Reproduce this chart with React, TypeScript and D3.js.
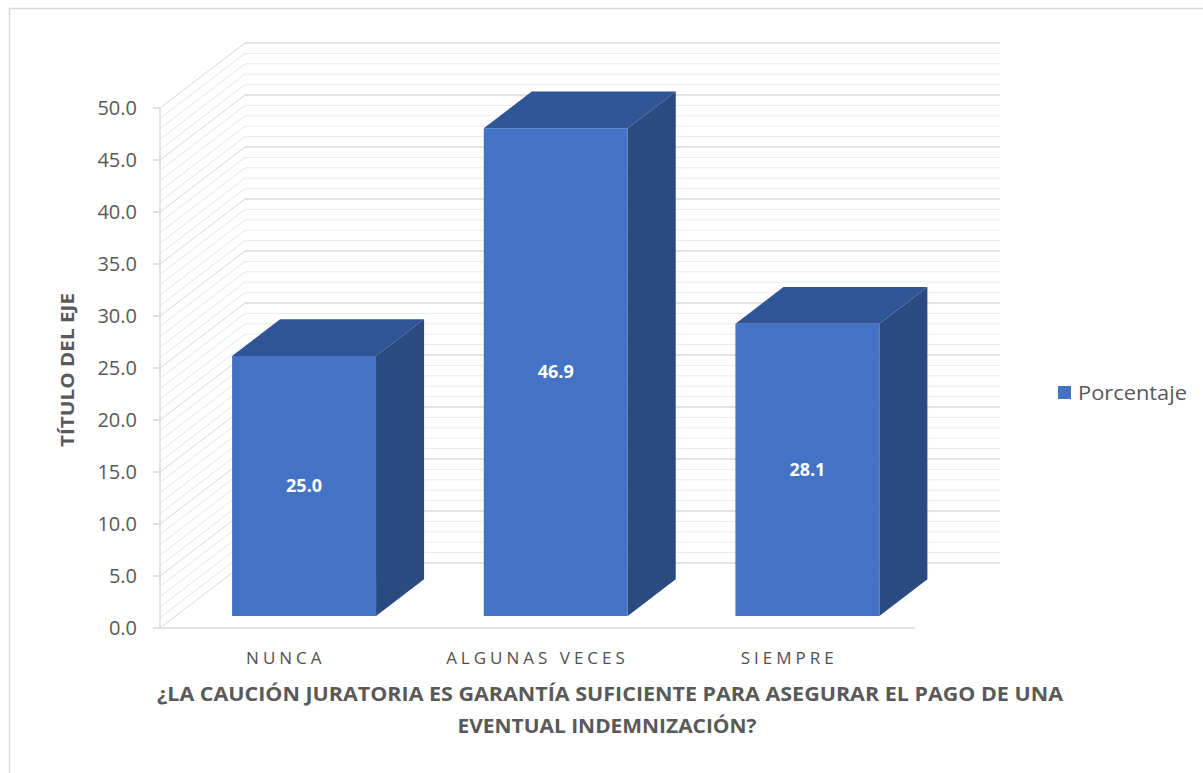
import React from 'react';
import * as d3 from 'd3';

const categories = ['NUNCA', 'ALGUNAS VECES', 'SIEMPRE'];
const porcentaje = [25.0, 46.9, 28.1];
const yTicks = [0, 5, 10, 15, 20, 25, 30, 35, 40, 45, 50];
const seriesName = 'Porcentaje';
const yTitle = 'TÍTULO DEL EJE';
const xTitle = ['¿LA CAUCIÓN JURATORIA ES GARANTÍA SUFICIENTE PARA ASEGURAR EL PAGO DE UNA', 'EVENTUAL INDEMNIZACIÓN?'];

const W = 1203;
const H = 773;
// front plane of the plot
const left = 160;
const right = 915;
const bottom = 628;
const top = 108;
// oblique depth offset
const depthX = 85;
const depthY = -65;
const barZ0 = 0.185;
const barZ1 = 0.75;
const barShift = 2.5;

const textColor = '#595959';
const font = '"Open Sans", "Noto Sans", sans-serif';

function App() {
    const x = d3.scaleBand().domain(categories).range([left, right]).padding(0);
    const y = d3.scaleLinear().domain([0, 50]).range([bottom, top]);
    const barW = x.bandwidth() * 0.572;
    const minor = d3.range(0, 51, 1);

    const proj = (px: number, py: number, z: number): [number, number] => [px + depthX * z, py + depthY * z];
    const pts = (arr: [number, number][]) => arr.map((p) => p.join(',')).join(' ');

    return (
        <svg width={W} height={H} style={{ position: 'absolute', left: 0, top: 0 }}>
            <rect x={9.5} y={8.5} width={W + 10} height={H + 10} fill="#fff" stroke="#d9d9d9" strokeWidth={1.5} />

            {/* back wall grid */}
            {minor.map((v) => {
                const [x0, y0] = proj(left, y(v), 1);
                const [x1] = proj(right, y(v), 1);
                const major = v % 5 === 0;
                return <line key={'b' + v} x1={x0} x2={x1} y1={y0} y2={y0}
                    stroke={major ? '#d9d9d9' : '#ececec'} strokeWidth={major ? 1.5 : 1} />;
            })}
            {/* side wall grid */}
            {minor.map((v) => {
                const [x1, y1] = proj(left, y(v), 1);
                const major = v % 5 === 0;
                return <line key={'s' + v} x1={left} y1={y(v)} x2={x1} y2={y1}
                    stroke={major ? '#d9d9d9' : '#e6e6e6'} strokeWidth={1} />;
            })}
            <line x1={left} x2={left} y1={top} y2={bottom} stroke="#d9d9d9" strokeWidth={1.5} />
            <line x1={left} x2={right} y1={bottom} y2={bottom} stroke="#d9d9d9" strokeWidth={1.5} />

            {/* y axis */}
            {yTicks.map((t) => (
                <g key={'t' + t}>
                    <line x1={left - 7} x2={left} y1={y(t)} y2={y(t)} stroke="#d9d9d9" strokeWidth={1.5} />
                    <text x={137} y={y(t)} dy="0.36em" textAnchor="end" fontSize={20} fill={textColor}
                        fontFamily={font}>{d3.format('.1f')(t)}</text>
                </g>
            ))}
            <text transform={`translate(74, 370) rotate(-90)`} textAnchor="middle" fontSize={18}
                fontWeight="bold" fill={textColor} fontFamily={font} textLength={154}
                lengthAdjust="spacingAndGlyphs">{yTitle}</text>

            {/* bars */}
            {categories.map((c, i) => {
                const v = porcentaje[i];
                const cx = (x(c) as number) + x.bandwidth() / 2 + barShift;
                const bx0 = cx - barW / 2;
                const bx1 = cx + barW / 2;
                const yt = y(v);
                const yb = y(0);
                const fTL = proj(bx0, yt, barZ0);
                const fTR = proj(bx1, yt, barZ0);
                const fBR = proj(bx1, yb, barZ0);
                const fBL = proj(bx0, yb, barZ0);
                const bTL = proj(bx0, yt, barZ1);
                const bTR = proj(bx1, yt, barZ1);
                const bBR = proj(bx1, yb, barZ1);
                return (
                    <g key={c}>
                        <polygon points={pts([fTR, bTR, bBR, fBR])} fill="#2a4a80" />
                        <polygon points={pts([fTL, fTR, bTR, bTL])} fill="#2f5597" />
                        <polygon points={pts([fTL, fTR, fBR, fBL])} fill="#4472c4" />
                        <text x={(fTL[0] + fTR[0]) / 2} y={(fTL[1] + fBL[1]) / 2} dy="0.35em"
                            textAnchor="middle" fill="#fff" fontWeight="bold" fontSize={18}
                            fontFamily={font}>{d3.format('.1f')(v)}</text>
                    </g>
                );
            })}

            {/* category labels */}
            {categories.map((c) => (
                <text key={'l' + c} x={(x(c) as number) + x.bandwidth() / 2} y={664} textAnchor="middle"
                    fontSize={17} letterSpacing={4} fill="#505050" fontFamily={font}>{c}</text>
            ))}

            {/* x title */}
            <text x={610} y={701} textAnchor="middle" fontSize={19} fontWeight="bold" fill={textColor}
                fontFamily={font} textLength={906} lengthAdjust="spacingAndGlyphs">{xTitle[0]}</text>
            <text x={607} y={733} textAnchor="middle" fontSize={19} fontWeight="bold" fill={textColor}
                fontFamily={font} textLength={299} lengthAdjust="spacingAndGlyphs">{xTitle[1]}</text>

            {/* legend */}
            <rect x={1058} y={386} width={13} height={13} fill="#4472c4" />
            <text x={1078} y={400} fontSize={20} fill={textColor} fontFamily={font}
                textLength={109} lengthAdjust="spacingAndGlyphs">{seriesName}</text>
        </svg>
    );
}

export default App;
